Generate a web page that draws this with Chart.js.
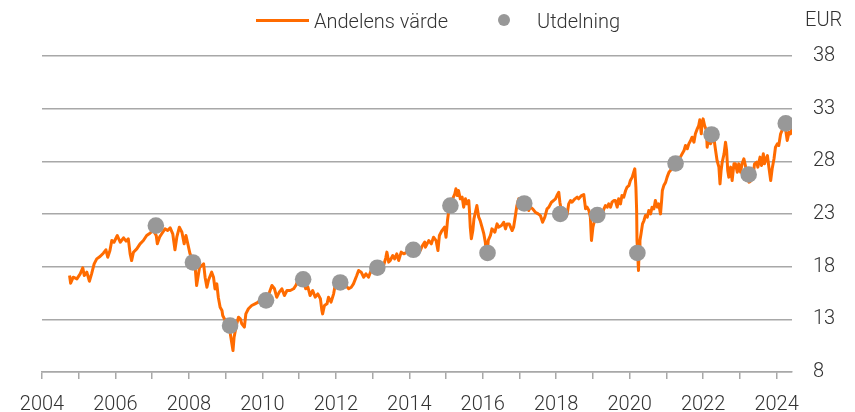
<!DOCTYPE html>
<html lang="sv">
<head>
<meta charset="UTF-8">
<title>Andelens värde och utdelning</title>
<script src="https://cdn.jsdelivr.net/npm/chart.js@4"></script>
<style>
  body { margin: 0; background: #fff; }
  #wrap { position: relative; width: 855px; height: 412px; font-family: Roboto, "Open Sans", sans-serif; font-weight: 300; color: #333; }
  #wrap .lbl { position: absolute; font-size: 20px; line-height: 20px; white-space: nowrap; }
  #lineKey { position: absolute; left: 256px; top: 19px; width: 53px; height: 3px; background: #ff6b00; }
  #dotKey { position: absolute; left: 498px; top: 14px; width: 12px; height: 12px; border-radius: 50%; background: #989898; }
</style>
</head>
<body>
<div id="wrap">
  <canvas id="fundChart" width="855" height="412"></canvas>
  <div id="lineKey"></div>
  <div class="lbl" style="left:314px; top:11px;">Andelens värde</div>
  <div id="dotKey"></div>
  <div class="lbl" style="left:537px; top:11px;">Utdelning</div>
  <div class="lbl" style="left:805px; top:9px;">EUR</div>
</div>
<script>
// andelens värde, [år, EUR]
const andelensVarde = [
  [2004.75,17.16],[2004.78,16.43],[2004.85,17.0],[2004.95,16.84],[2005.04,17.32],[2005.11,17.89],
  [2005.15,17.16],[2005.22,17.48],[2005.29,16.62],[2005.35,17.32],[2005.42,18.27],[2005.49,18.74],
  [2005.58,18.96],[2005.67,19.28],[2005.74,19.6],[2005.79,18.9],[2005.85,19.53],[2005.9,20.48],
  [2005.96,20.32],[2006.05,20.96],[2006.13,20.32],[2006.22,20.74],[2006.29,20.42],[2006.35,20.64],
  [2006.4,19.22],[2006.44,18.58],[2006.49,19.37],[2006.58,19.69],[2006.67,20.17],[2006.76,20.48],
  [2006.85,20.96],[2006.94,21.18],[2007.03,21.43],[2007.11,20.96],[2007.14,20.17],[2007.2,20.8],
  [2007.26,21.12],[2007.35,21.59],[2007.42,21.43],[2007.49,21.68],[2007.56,21.12],[2007.62,19.6],
  [2007.67,20.8],[2007.74,21.75],[2007.81,21.27],[2007.87,20.17],[2007.92,20.96],[2007.98,20.01],
  [2008.03,19.22],[2008.1,18.58],[2008.17,17.95],[2008.21,16.21],[2008.29,17.95],[2008.35,18.11],
  [2008.4,18.27],[2008.44,17.0],[2008.49,16.05],[2008.53,16.68],[2008.62,17.48],[2008.67,17.0],
  [2008.71,15.89],[2008.76,16.37],[2008.8,15.1],[2008.85,14.15],[2008.9,13.84],[2008.92,13.36],
  [2008.99,12.89],[2009.03,12.57],[2009.1,12.25],[2009.17,10.67],[2009.2,10.04],[2009.23,11.3],
  [2009.29,12.41],[2009.35,13.2],[2009.4,13.05],[2009.44,12.57],[2009.51,12.26],[2009.55,13.52],
  [2009.62,14.0],[2009.71,14.31],[2009.8,14.47],[2009.89,14.63],[2009.97,15.1],[2010.03,14.95],
  [2010.12,14.79],[2010.21,15.74],[2010.26,16.21],[2010.33,15.9],[2010.39,15.1],[2010.46,15.58],
  [2010.53,15.9],[2010.6,15.26],[2010.67,15.74],[2010.76,15.74],[2010.85,15.9],[2010.91,16.21],
  [2010.97,16.69],[2011.03,16.53],[2011.12,16.69],[2011.18,15.9],[2011.24,16.05],[2011.3,15.26],
  [2011.37,15.74],[2011.44,15.1],[2011.51,15.42],[2011.58,14.95],[2011.62,13.84],[2011.64,13.52],
  [2011.69,14.31],[2011.76,14.47],[2011.8,15.1],[2011.87,14.63],[2011.94,15.42],[2011.98,16.21],
  [2012.06,16.37],[2012.12,16.53],[2012.21,16.37],[2012.27,16.21],[2012.35,15.9],[2012.42,16.05],
  [2012.48,16.37],[2012.57,17.16],[2012.62,17.64],[2012.69,17.48],[2012.76,17.0],[2012.82,17.32],
  [2012.89,17.0],[2012.96,17.64],[2013.06,17.79],[2013.15,17.95],[2013.21,18.27],[2013.3,18.11],
  [2013.36,18.84],[2013.39,19.38],[2013.44,18.43],[2013.48,18.59],[2013.55,19.06],[2013.6,18.74],
  [2013.66,19.22],[2013.71,18.59],[2013.78,19.38],[2013.85,19.22],[2013.94,19.38],[2014.03,19.54],
  [2014.12,19.54],[2014.21,19.22],[2014.3,19.54],[2014.36,20.01],[2014.42,20.33],[2014.44,19.85],
  [2014.53,20.48],[2014.6,20.17],[2014.66,20.8],[2014.73,20.48],[2014.78,19.53],[2014.82,20.96],
  [2014.89,21.43],[2014.96,21.75],[2015.0,20.8],[2015.04,22.38],[2015.07,23.17],[2015.12,23.8],
  [2015.18,24.44],[2015.24,24.91],[2015.27,25.39],[2015.31,24.75],[2015.34,25.23],[2015.39,24.44],
  [2015.44,24.6],[2015.48,23.65],[2015.53,24.44],[2015.57,23.96],[2015.62,24.28],[2015.64,23.17],
  [2015.66,21.75],[2015.69,20.64],[2015.73,21.43],[2015.76,22.54],[2015.8,23.17],[2015.84,23.8],
  [2015.89,22.7],[2015.93,22.38],[2015.98,21.75],[2016.03,21.11],[2016.07,20.32],[2016.11,18.7],
  [2016.15,20.5],[2016.21,20.96],[2016.25,21.59],[2016.33,21.27],[2016.39,22.06],[2016.43,21.75],
  [2016.51,21.91],[2016.57,22.22],[2016.62,21.59],[2016.66,22.06],[2016.72,22.06],[2016.8,21.43],
  [2016.84,21.75],[2016.89,22.85],[2016.93,23.8],[2016.98,24.44],[2017.05,24.12],[2017.12,23.96],
  [2017.21,23.65],[2017.25,23.33],[2017.3,23.65],[2017.36,23.49],[2017.43,23.17],[2017.51,23.01],
  [2017.57,22.85],[2017.63,22.22],[2017.69,22.7],[2017.75,23.49],[2017.8,23.65],[2017.87,24.12],
  [2017.93,24.28],[2017.98,24.44],[2018.02,24.75],[2018.07,25.07],[2018.1,24.12],[2018.14,23.33],
  [2018.21,22.85],[2018.25,22.7],[2018.3,23.01],[2018.34,23.96],[2018.39,24.28],[2018.43,24.12],
  [2018.51,24.44],[2018.57,24.6],[2018.61,24.44],[2018.69,24.75],[2018.75,24.85],[2018.8,23.49],
  [2018.84,23.65],[2018.89,23.33],[2018.93,22.7],[2018.96,20.48],[2019.0,21.75],[2019.02,22.06],
  [2019.07,22.54],[2019.16,23.01],[2019.2,23.17],[2019.25,23.01],[2019.3,23.49],[2019.34,23.8],
  [2019.39,23.65],[2019.43,23.96],[2019.48,23.65],[2019.52,24.12],[2019.57,24.28],[2019.61,24.28],
  [2019.66,23.65],[2019.7,24.44],[2019.75,23.96],[2019.79,24.76],[2019.84,24.6],[2019.89,25.23],
  [2019.93,25.55],[2019.98,25.7],[2020.02,26.18],[2020.07,26.5],[2020.11,26.97],[2020.14,27.29],
  [2020.17,25.55],[2020.19,23.33],[2020.2,20.48],[2020.22,19.22],[2020.24,17.63],[2020.26,19.85],
  [2020.28,20.48],[2020.31,21.12],[2020.35,22.06],[2020.39,22.38],[2020.43,22.86],[2020.48,22.7],
  [2020.52,23.33],[2020.57,23.01],[2020.61,23.65],[2020.66,23.49],[2020.7,24.28],[2020.75,23.65],
  [2020.79,23.96],[2020.84,23.01],[2020.87,24.28],[2020.89,25.23],[2020.93,25.7],[2020.98,26.02],
  [2021.02,26.5],[2021.07,26.97],[2021.11,27.13],[2021.16,27.45],[2021.2,27.6],[2021.28,27.92],
  [2021.34,28.24],[2021.38,28.4],[2021.43,28.71],[2021.48,29.03],[2021.52,29.5],[2021.57,29.19],
  [2021.61,29.66],[2021.66,29.98],[2021.7,30.29],[2021.75,29.82],[2021.79,30.61],[2021.84,31.08],
  [2021.88,31.4],[2021.91,31.94],[2021.95,30.61],[2021.97,31.56],[2022.0,32.03],[2022.04,31.4],
  [2022.09,30.93],[2022.11,29.34],[2022.16,30.45],[2022.2,29.66],[2022.29,30.29],[2022.34,29.03],
  [2022.38,28.08],[2022.43,27.45],[2022.46,25.86],[2022.49,27.13],[2022.52,27.92],[2022.57,28.71],
  [2022.61,29.82],[2022.64,29.03],[2022.67,27.13],[2022.7,26.5],[2022.75,27.45],[2022.79,26.18],
  [2022.84,27.76],[2022.88,27.76],[2022.93,26.97],[2022.97,27.76],[2023.02,26.97],[2023.06,27.76],
  [2023.11,28.24],[2023.16,27.45],[2023.2,26.5],[2023.25,26.02],[2023.31,26.18],[2023.36,26.65],
  [2023.4,27.76],[2023.46,27.92],[2023.49,27.45],[2023.55,28.4],[2023.59,27.6],[2023.64,28.71],
  [2023.67,27.76],[2023.71,28.24],[2023.75,28.55],[2023.79,27.45],[2023.84,26.18],[2023.88,27.29],
  [2023.93,28.24],[2023.97,29.34],[2024.02,29.66],[2024.06,29.5],[2024.11,30.61],[2024.15,30.93],
  [2024.2,31.08],[2024.25,30.93],[2024.29,29.98],[2024.34,30.77],[2024.38,30.61],[2024.42,31.08]
];

// utdelning, [år, EUR]
const utdelning = [
  [2007.1,21.9],[2008.11,18.4],[2009.12,12.4],[2010.1,14.8],[2011.11,16.8],[2012.12,16.5],
  [2013.13,17.9],[2014.11,19.6],[2015.12,23.8],[2016.13,19.3],[2017.13,24.0],[2018.11,23.0],
  [2019.12,22.9],[2020.21,19.3],[2021.25,27.8],[2022.23,30.55],[2023.24,26.75],[2024.25,31.6]
];

const xMin = 2004, xMax = 2024.42;
const yMin = 8, yMax = 38, yStep = 5;

const toPoints = arr => arr.map(p => ({ x: p[0], y: p[1] }));
const tickFont = { family: 'Roboto, "Open Sans", sans-serif', size: 20, weight: '300' };
const gridGray = '#a8a8a8';

new Chart(document.getElementById('fundChart'), {
  data: {
    datasets: [
      {
        type: 'scatter',
        label: 'Utdelning',
        data: toPoints(utdelning),
        backgroundColor: '#989898',
        borderWidth: 0,
        pointRadius: 8.3,
        order: 0
      },
      {
        type: 'line',
        label: 'Andelens värde',
        data: toPoints(andelensVarde),
        borderColor: '#ff6b00',
        borderWidth: 3,
        borderJoinStyle: 'round',
        pointRadius: 0,
        tension: 0,
        order: 1
      }
    ]
  },
  options: {
    responsive: false,
    animation: false,
    layout: { padding: { top: 56, left: 42, right: 0, bottom: 0 } },
    plugins: { legend: { display: false }, tooltip: { enabled: false } },
    scales: {
      x: {
        type: 'linear',
        min: xMin,
        max: xMax,
        grid: { drawOnChartArea: false, drawTicks: true, tickLength: 7, color: gridGray, lineWidth: 1.5 },
        border: { display: true, color: gridGray, width: 1.5 },
        ticks: {
          stepSize: 1,
          includeBounds: false,
          autoSkip: false,
          maxRotation: 0,
          padding: 14,
          color: '#333',
          font: tickFont,
          callback: v => (v % 2 === 0 ? String(v) : '')
        },
        afterFit: s => { s.height = 40; }
      },
      y: {
        position: 'right',
        min: yMin,
        max: yMax,
        grid: { drawTicks: false, color: gridGray, lineWidth: 1.5 },
        border: { display: false },
        ticks: { stepSize: yStep, padding: 21, color: '#333', font: tickFont },
        afterFit: s => { s.width = 63; }
      }
    }
  }
});
</script>
</body>
</html>
